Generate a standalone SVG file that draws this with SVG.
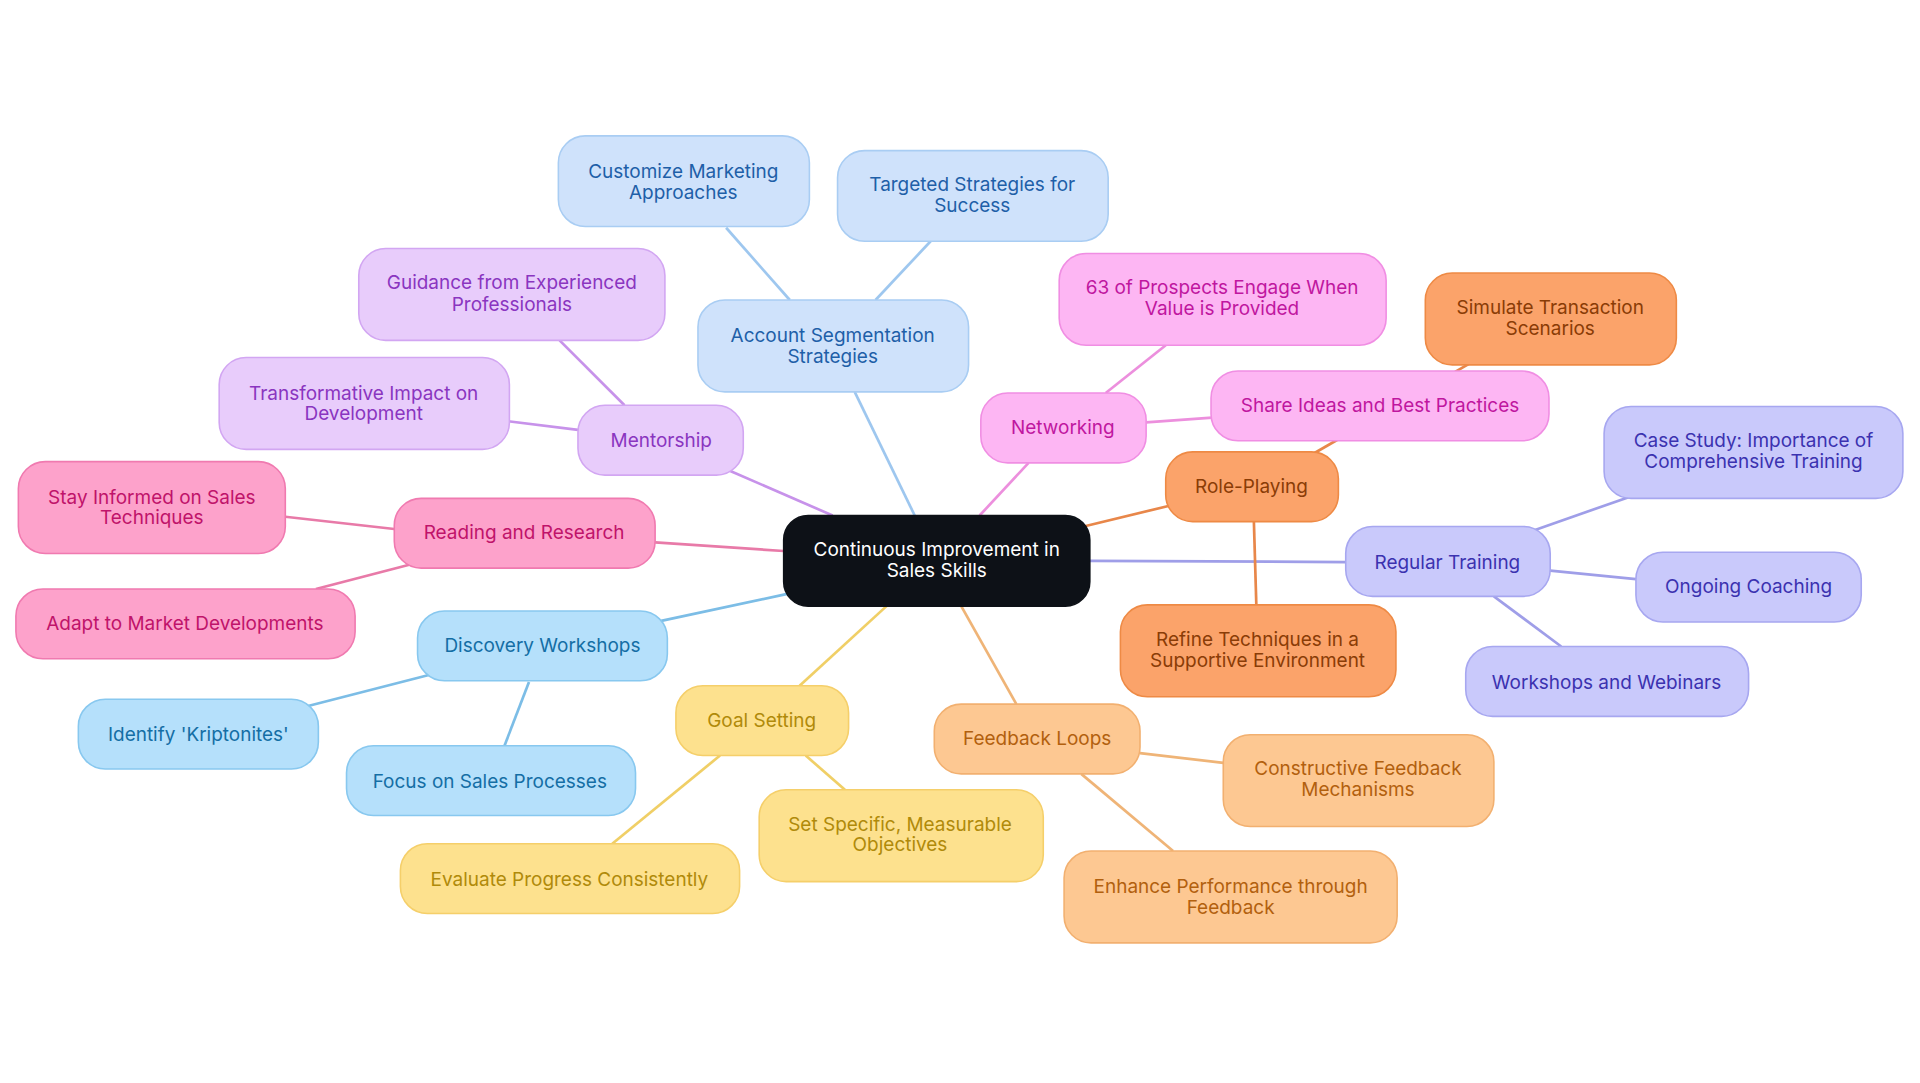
<svg xmlns="http://www.w3.org/2000/svg" width="1920" height="1083" viewBox="0 0 1920 1083">
<style>
text{font-family:Inter,"Open Sans","Liberation Sans",sans-serif;font-size:15.5px;text-anchor:middle;dominant-baseline:central}
.e line{stroke-width:2.2;fill:none}
rect{stroke-width:1.3}
.c0 rect{fill:#0d1117;stroke:#0d1117}.c0 text{fill:#fff}
.b rect{fill:#cfe2fb;stroke:#a9cdf3}.b text{fill:#1e5fa8}
.p rect{fill:#e8ccfb;stroke:#d2a6f2}.p text{fill:#8a35c0}
.n rect{fill:#fdb6f3;stroke:#f08ee3}.n text{fill:#c0169f}
.o rect{fill:#fba36a;stroke:#ee8a45}.o text{fill:#8a3c06}
.i rect{fill:#c9c9fb;stroke:#a7a7f0}.i text{fill:#3b32b0}
.f rect{fill:#fdc892;stroke:#f2b070}.f text{fill:#b2600e}
.y rect{fill:#fde18e;stroke:#f5cf6a}.y text{fill:#b08a0a}
.l rect{fill:#b5e0fb;stroke:#88c8ef}.l text{fill:#146ea5}
.h rect{fill:#fda2cb;stroke:#f07ab0}.h text{fill:#c0136a}
</style>
<rect width="1920" height="1083" fill="#fff" stroke="none"/>
<g transform="scale(1.2245)">
<g id="connectors" class="e">
<line x1="747" y1="421" x2="698" y2="320" stroke="#9ec7ef"/>
<line x1="680" y1="421" x2="595" y2="384" stroke="#c792ea"/>
<line x1="800" y1="421" x2="840" y2="378" stroke="#ec8fdd"/>
<line x1="885" y1="430" x2="955" y2="413" stroke="#e8874a"/>
<line x1="890" y1="458" x2="1099" y2="459" stroke="#9f9ee8"/>
<line x1="785" y1="495" x2="830" y2="575" stroke="#efb477"/>
<line x1="724" y1="495" x2="653" y2="560" stroke="#f0cf66"/>
<line x1="643" y1="485" x2="540" y2="507" stroke="#7cbde6"/>
<line x1="640" y1="450" x2="535" y2="443" stroke="#e87aa8"/>
<line x1="645" y1="245" x2="593" y2="186" stroke="#9ec7ef"/>
<line x1="715" y1="245" x2="760" y2="197" stroke="#9ec7ef"/>
<line x1="510" y1="331" x2="457" y2="278" stroke="#c792ea"/>
<line x1="472" y1="351" x2="415" y2="344" stroke="#c792ea"/>
<line x1="903" y1="321" x2="952" y2="282" stroke="#ec8fdd"/>
<line x1="936" y1="345" x2="990" y2="341" stroke="#ec8fdd"/>
<line x1="1070" y1="372" x2="1200" y2="297" stroke="#e8874a"/>
<line x1="1024" y1="426" x2="1026" y2="494" stroke="#e8874a"/>
<line x1="1253" y1="433" x2="1330" y2="406" stroke="#9f9ee8"/>
<line x1="1266" y1="466" x2="1336" y2="473" stroke="#9f9ee8"/>
<line x1="1220" y1="487" x2="1275" y2="528" stroke="#9f9ee8"/>
<line x1="931" y1="615" x2="999" y2="623" stroke="#efb477"/>
<line x1="883" y1="632" x2="958" y2="695" stroke="#efb477"/>
<line x1="658" y1="617" x2="690" y2="645" stroke="#f0cf66"/>
<line x1="588" y1="617" x2="500" y2="689" stroke="#f0cf66"/>
<line x1="351" y1="551" x2="250" y2="577" stroke="#7cbde6"/>
<line x1="432" y1="557" x2="412" y2="609" stroke="#7cbde6"/>
<line x1="322" y1="432" x2="233" y2="422" stroke="#e87aa8"/>
<line x1="335" y1="461" x2="258" y2="481" stroke="#e87aa8"/>
</g>
<g id="center" class="c0"><rect x="640" y="421" width="250" height="74" rx="20"/><text x="765" y="449">Continuous Improvement in</text><text x="765" y="466">Sales Skills</text></g>
<g id="account" class="b"><rect x="570" y="245" width="221" height="75" rx="22"/><text x="680" y="274">Account Segmentation</text><text x="680" y="291">Strategies</text></g>
<g id="customize" class="b"><rect x="456" y="111" width="205" height="74" rx="22"/><text x="558" y="140">Customize Marketing</text><text x="558" y="157">Approaches</text></g>
<g id="targeted" class="b"><rect x="684" y="123" width="221" height="74" rx="22"/><text x="794" y="151">Targeted Strategies for</text><text x="794" y="168">Success</text></g>
<g id="mentorship" class="p"><rect x="472" y="331" width="135" height="57" rx="22"/><text x="540" y="360">Mentorship</text></g>
<g id="guidance" class="p"><rect x="293" y="203" width="250" height="75" rx="22"/><text x="418" y="231">Guidance from Experienced</text><text x="418" y="249">Professionals</text></g>
<g id="transformative" class="p"><rect x="179" y="292" width="237" height="75" rx="22"/><text x="297" y="321">Transformative Impact on</text><text x="297" y="338">Development</text></g>
<g id="networking" class="n"><rect x="801" y="321" width="135" height="57" rx="22"/><text x="868" y="349">Networking</text></g>
<g id="prospects" class="n"><rect x="865" y="207" width="267" height="75" rx="22"/><text x="998" y="235">63 of Prospects Engage When</text><text x="998" y="252">Value is Provided</text></g>
<g id="share" class="n"><rect x="989" y="303" width="276" height="57" rx="22"/><text x="1127" y="331">Share Ideas and Best Practices</text></g>
<g id="roleplaying" class="o"><rect x="952" y="369" width="141" height="57" rx="22"/><text x="1022" y="397">Role-Playing</text></g>
<g id="simulate" class="o"><rect x="1164" y="223" width="205" height="75" rx="22"/><text x="1266" y="251">Simulate Transaction</text><text x="1266" y="268">Scenarios</text></g>
<g id="refine" class="o"><rect x="915" y="494" width="225" height="75" rx="22"/><text x="1027" y="522">Refine Techniques in a</text><text x="1027" y="539">Supportive Environment</text></g>
<g id="training" class="i"><rect x="1099" y="430" width="167" height="57" rx="22"/><text x="1182" y="459">Regular Training</text></g>
<g id="casestudy" class="i"><rect x="1310" y="332" width="244" height="75" rx="22"/><text x="1432" y="360">Case Study: Importance of</text><text x="1432" y="377">Comprehensive Training</text></g>
<g id="coaching" class="i"><rect x="1336" y="451" width="184" height="57" rx="22"/><text x="1428" y="479">Ongoing Coaching</text></g>
<g id="webinars" class="i"><rect x="1197" y="528" width="231" height="57" rx="22"/><text x="1312" y="557">Workshops and Webinars</text></g>
<g id="feedback" class="f"><rect x="763" y="575" width="168" height="57" rx="22"/><text x="847" y="603">Feedback Loops</text></g>
<g id="constructive" class="f"><rect x="999" y="600" width="221" height="75" rx="22"/><text x="1109" y="628">Constructive Feedback</text><text x="1109" y="645">Mechanisms</text></g>
<g id="enhance" class="f"><rect x="869" y="695" width="272" height="75" rx="22"/><text x="1005" y="724">Enhance Performance through</text><text x="1005" y="741">Feedback</text></g>
<g id="goal" class="y"><rect x="552" y="560" width="141" height="57" rx="22"/><text x="622" y="588">Goal Setting</text></g>
<g id="specific" class="y"><rect x="620" y="645" width="232" height="75" rx="22"/><text x="735" y="673">Set Specific, Measurable</text><text x="735" y="690">Objectives</text></g>
<g id="evaluate" class="y"><rect x="327" y="689" width="277" height="57" rx="22"/><text x="465" y="718">Evaluate Progress Consistently</text></g>
<g id="discovery" class="l"><rect x="341" y="499" width="204" height="57" rx="22"/><text x="443" y="527">Discovery Workshops</text></g>
<g id="kriptonites" class="l"><rect x="64" y="571" width="196" height="57" rx="22"/><text x="162" y="600">Identify 'Kriptonites'</text></g>
<g id="processes" class="l"><rect x="283" y="609" width="236" height="57" rx="22"/><text x="400" y="638">Focus on Sales Processes</text></g>
<g id="reading" class="h"><rect x="322" y="407" width="213" height="57" rx="22"/><text x="428" y="435">Reading and Research</text></g>
<g id="informed" class="h"><rect x="15" y="377" width="218" height="75" rx="22"/><text x="124" y="406">Stay Informed on Sales</text><text x="124" y="423">Techniques</text></g>
<g id="adapt" class="h"><rect x="13" y="481" width="277" height="57" rx="22"/><text x="151" y="509">Adapt to Market Developments</text></g>
</g>
</svg>
